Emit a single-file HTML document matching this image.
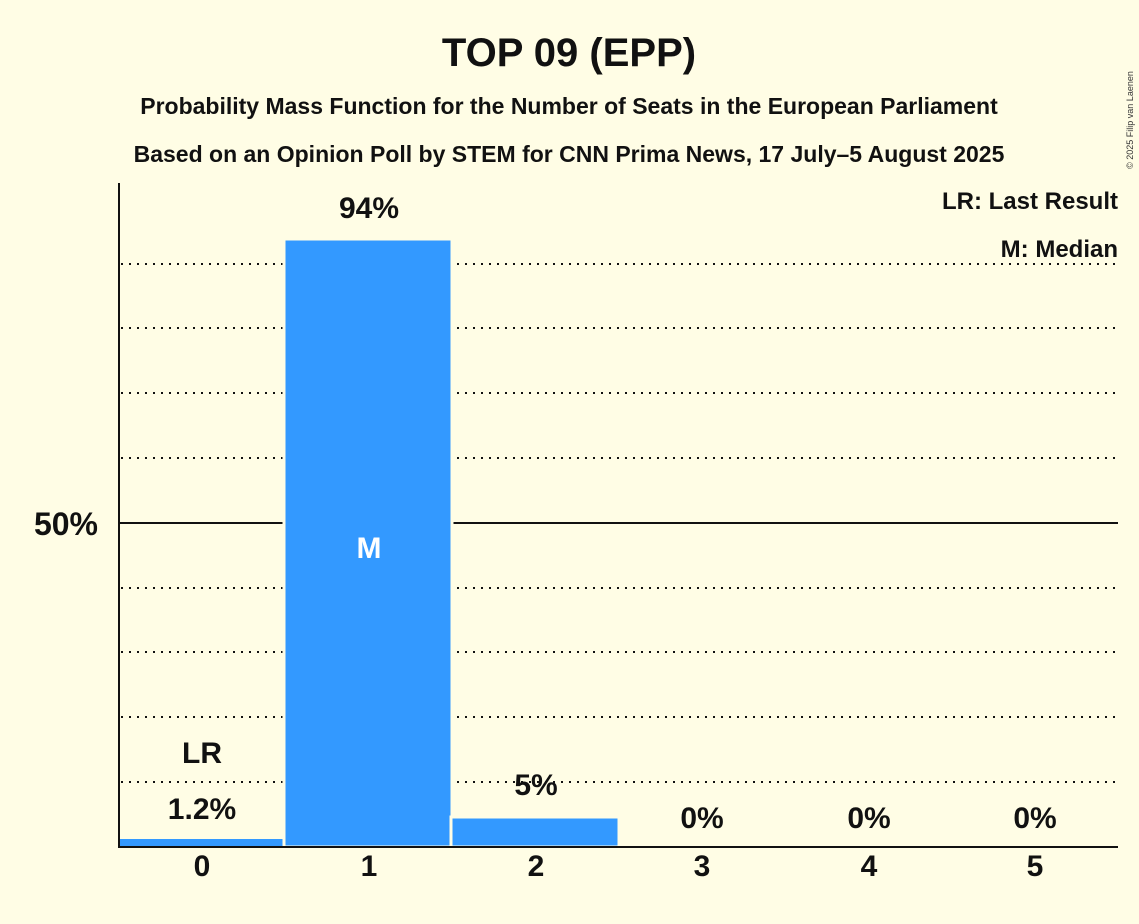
<!DOCTYPE html>
<html><head><meta charset="utf-8"><style>
html,body{margin:0;padding:0;background:#FFFDE5;}
svg{display:block;font-family:"Liberation Sans",sans-serif;font-weight:bold;}
</style></head><body>
<svg width="1139" height="924" viewBox="0 0 1139 924" xmlns="http://www.w3.org/2000/svg">
<rect width="1139" height="924" fill="#FFFDE5"/>
<text x="569" y="66" text-anchor="middle" font-size="40" fill="#111">TOP 09 (EPP)</text>
<text x="569" y="114" text-anchor="middle" font-size="23" fill="#111">Probability Mass Function for the Number of Seats in the European Parliament</text>
<text x="569" y="162" text-anchor="middle" font-size="23" fill="#111">Based on an Opinion Poll by STEM for CNN Prima News, 17 July–5 August 2025</text>
<text x="1133" y="120" font-size="9" font-weight="normal" fill="#333" transform="rotate(-90 1133 120)" text-anchor="middle">© 2025 Filip van Laenen</text>
<g stroke="#111" stroke-width="2" stroke-dasharray="2,6">
<line x1="121" y1="264" x2="1118" y2="264"/>
<line x1="121" y1="328" x2="1118" y2="328"/>
<line x1="121" y1="393" x2="1118" y2="393"/>
<line x1="121" y1="458" x2="1118" y2="458"/>
<line x1="121" y1="588" x2="1118" y2="588"/>
<line x1="121" y1="652" x2="1118" y2="652"/>
<line x1="121" y1="717" x2="1118" y2="717"/>
<line x1="121" y1="782" x2="1118" y2="782"/>
</g>
<line x1="119" y1="523" x2="1118" y2="523" stroke="#111" stroke-width="2"/>
<rect x="119" y="839" width="165" height="8" fill="#3399FF"/>
<rect x="284" y="239" width="168" height="608" fill="#3399FF" stroke="#FFFDE5" stroke-width="3"/>
<rect x="451" y="817" width="168" height="30" fill="#3399FF" stroke="#FFFDE5" stroke-width="3"/>
<line x1="119" y1="183" x2="119" y2="848" stroke="#111" stroke-width="2"/>
<line x1="118" y1="847" x2="1118" y2="847" stroke="#111" stroke-width="2"/>
<text x="98" y="535" text-anchor="end" font-size="32" fill="#111">50%</text>
<g font-size="30" fill="#111" text-anchor="middle">
<text x="202" y="876">0</text><text x="369" y="876">1</text><text x="536" y="876">2</text>
<text x="702" y="876">3</text><text x="869" y="876">4</text><text x="1035" y="876">5</text>
</g>
<g font-size="30" fill="#111" text-anchor="middle">
<text x="202" y="763">LR</text>
<text x="202" y="819">1.2%</text>
<text x="369" y="218">94%</text>
<text x="536" y="795">5%</text>
<text x="702" y="828">0%</text>
<text x="869" y="828">0%</text>
<text x="1035" y="828">0%</text>
</g>
<text x="369" y="558" text-anchor="middle" font-size="30" fill="#fff">M</text>
<text x="1118" y="209" text-anchor="end" font-size="24" fill="#111">LR: Last Result</text>
<text x="1118" y="257" text-anchor="end" font-size="24" fill="#111">M: Median</text>
</svg>
</body></html>
